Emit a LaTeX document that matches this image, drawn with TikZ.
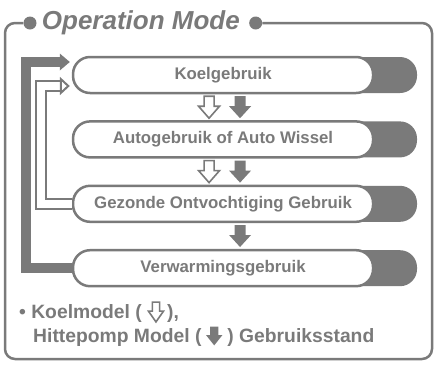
\documentclass[tikz,border=0pt]{standalone}
\usepackage{fontspec}
\setmainfont{Liberation Sans}
\usetikzlibrary{arrows.meta, positioning, calc}
\definecolor{grijs}{HTML}{7A7A7A}

\begin{document}
\begin{tikzpicture}[
    x=1pt, y=-1pt,
    node distance=28pt,
    achter/.style={rectangle, rounded corners=17pt, fill=grijs, inner sep=0pt,
                   minimum width=345pt, minimum height=36pt},
    wit/.style={rectangle, rounded corners=17pt, draw=grijs, fill=white, line width=2.5pt,
                minimum width=300pt, minimum height=36pt, inner sep=0pt, text=grijs,
                font=\fontsize{16.8}{18}\selectfont\bfseries},
    stip/.style={circle, fill=grijs, minimum size=13pt, inner sep=0pt},
    titel/.style={inner sep=0pt, text=grijs, font=\fontsize{26}{28}\selectfont\bfseries\itshape},
    kader/.style={draw=grijs, line width=2.5pt, rounded corners=10pt},
    uitleg/.style={inner sep=0pt, anchor=base west, text=grijs,
                   font=\fontsize{19.3}{22}\selectfont\bfseries},
    pompband/.style={draw=grijs, line width=10pt, shorten >=2pt,
                     -{Triangle[length=10pt, width=17pt, line width=0pt]}},
    koelband/.style={draw=grijs, line width=2pt, double=white, double distance=8pt, shorten >=2pt,
                     -{Triangle[length=10pt, width=18pt, line width=2pt, fill=white]}},
    koelpijl/.pic={\draw[grijs, line width=1.6pt, fill=white] (-5,-11) -- (5,-11) -- (5,-1)
                   -- (10.5,-1) -- (0,11) -- (-10.5,-1) -- (-5,-1) -- cycle;},
    pomppijl/.pic={\fill[grijs] (-5.5,-11) -- (5.5,-11) -- (5.5,-1)
                   -- (11,-1) -- (0,11) -- (-11,-1) -- (-5.5,-1) -- cycle;}
]
\useasboundingbox (0,0) rectangle (436,365);

\node[stip] (stipL) at (30,23) {};
\node[titel, right=5pt of stipL] (titel) {Operation Mode};
\node[stip, right=9pt of titel] (stipR) {};
\draw[kader] (stipL) -- (5,23) -- (5,359) -- (432,359) -- (432,23) -- (stipR);

\node[achter] (koelbg) at (244.5,75) {};
\node[wit, anchor=west] (koel) at (koelbg.west) {Koelgebruik};
\node[achter, below=of koelbg] (autobg) {};
\node[wit, anchor=west] (auto) at (autobg.west) {Autogebruik of Auto Wissel};
\node[achter, below=of autobg] (gezondbg) {};
\node[wit, anchor=west] (gezond) at (gezondbg.west) {Gezonde Ontvochtiging Gebruik};
\node[achter, below=of gezondbg] (verwbg) {};
\node[wit, anchor=west] (verw) at (verwbg.west) {Verwarmingsgebruik};

\pic at ($(koel.south)!.5!(auto.north)+(-14,0)$) {koelpijl};
\pic at ($(koel.south)!.5!(auto.north)+(17,0)$) {pomppijl};
\pic at ($(auto.south)!.5!(gezond.north)+(-14,0)$) {koelpijl};
\pic at ($(auto.south)!.5!(gezond.north)+(17,0)$) {pomppijl};
\pic at ($(gezond.south)!.5!(verw.north)+(17,0)$) {pomppijl};

\draw[pompband] (verwbg.west) -- ++(-46,0) |- ([yshift=13pt]koelbg.west);
\draw[koelband] (gezondbg.west) -- ++(-31,0) |- ([yshift=-11pt]koelbg.west);

\node[uitleg] (leg1) at (19,318) {• Koelmodel (};
\pic[xscale=.72, yscale=.9] at ($(leg1.base east)+(14,-6)$) {koelpijl};
\node[uitleg] (leg1b) at ($(leg1.base east)+(25,0)$) {),};
\node[uitleg] (leg2) at (33,342) {Hittepomp Model (};
\pic[xscale=.74, yscale=.85] at ($(leg2.base east)+(12.5,-6)$) {pomppijl};
\node[uitleg] (leg2b) at ($(leg2.base east)+(25.5,0)$) {) Gebruiksstand};
\end{tikzpicture}
\end{document}
